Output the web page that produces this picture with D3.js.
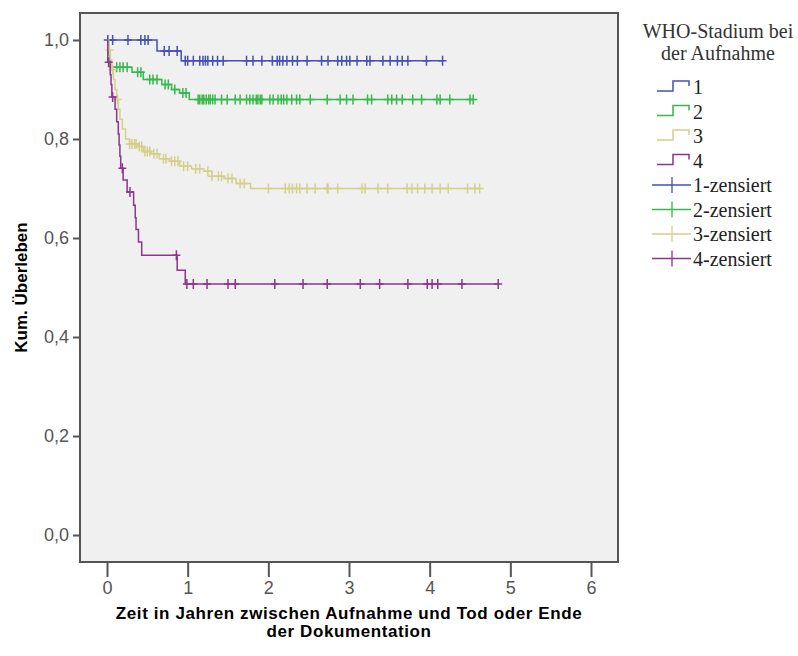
<html lang="de">

<head>
  <meta http-equiv="Content-Type" content="text/html; charset=UTF-8">
  <title>Kaplan-Meier WHO-Stadium</title>
  <script type="text/javascript" src="https://cdn.jsdelivr.net/npm/d3@7"></script>
  <style type="text/css">
    body { margin: 0; background: #fff; }
  </style>
</head>

<body>
  <script type="text/javascript">
    // survival steps per group: [time in years, survival after the event]
    var stage1Steps = [[0.62, 0.978], [0.92, 0.958]];
    var stage2Steps = [[0.02, 0.97], [0.04, 0.945], [0.31, 0.935], [0.45, 0.92], [0.68, 0.91], [0.80, 0.90], [0.90, 0.893], [1.02, 0.88]];
    var stage3Steps = [[0.02, 0.98], [0.04, 0.96], [0.06, 0.94], [0.08, 0.92], [0.10, 0.90], [0.12, 0.88], [0.14, 0.86], [0.16, 0.84],
      [0.19, 0.82], [0.23, 0.80], [0.28, 0.79], [0.38, 0.785], [0.45, 0.775], [0.55, 0.77], [0.65, 0.76], [0.78, 0.755],
      [0.90, 0.745], [1.05, 0.74], [1.20, 0.735], [1.30, 0.725], [1.45, 0.72], [1.60, 0.71], [1.78, 0.70]];
    var stage4Steps = [[0.01, 0.955], [0.04, 0.93], [0.05, 0.91], [0.06, 0.885], [0.10, 0.86], [0.12, 0.835], [0.14, 0.81],
      [0.15, 0.788], [0.16, 0.765], [0.17, 0.741], [0.20, 0.717], [0.25, 0.693], [0.33, 0.666], [0.35, 0.641],
      [0.36, 0.617], [0.39, 0.592], [0.43, 0.565], [0.87, 0.535], [0.97, 0.507]];

    // censored times per group
    var stage1Cens = [0.01, 0.07, 0.26, 0.42, 0.47, 0.51, 0.71, 0.77, 0.87, 0.97, 1.00, 1.07, 1.15, 1.19, 1.22, 1.25, 1.31,
      1.37, 1.44, 1.73, 1.81, 1.92, 2.05, 2.11, 2.14, 2.18, 2.23, 2.30, 2.36, 2.48, 2.66, 2.74, 2.86, 2.91, 2.97, 3.01,
      3.10, 3.22, 3.26, 3.42, 3.51, 3.60, 3.66, 3.73, 3.96, 4.16];
    var stage2Cens = [0.12, 0.16, 0.20, 0.25, 0.38, 0.42, 0.53, 0.57, 0.62, 0.72, 0.76, 0.84, 0.94, 0.98,
      1.13, 1.15, 1.18, 1.20, 1.23, 1.26, 1.28, 1.31, 1.34, 1.42, 1.49, 1.59, 1.65, 1.73, 1.77, 1.81, 1.85, 1.87, 1.90,
      1.92, 2.02, 2.06, 2.12, 2.16, 2.19, 2.23, 2.29, 2.35, 2.39, 2.52, 2.73, 2.89, 2.97, 3.05, 3.23, 3.28, 3.48, 3.53,
      3.59, 3.66, 3.79, 3.90, 4.09, 4.13, 4.25, 4.50, 4.54];
    var stage3Cens = [0.03, 0.07, 0.13, 0.28, 0.31, 0.34, 0.36, 0.40, 0.43, 0.47, 0.50, 0.53, 0.58, 0.62, 0.70, 0.73, 0.80,
      0.84, 0.88, 0.95, 1.00, 1.10, 1.15, 1.25, 1.30, 1.38, 1.42, 1.50, 1.55, 1.65, 1.70,
      2.00, 2.21, 2.26, 2.30, 2.35, 2.39, 2.48, 2.58, 2.73, 2.74, 2.86, 3.16, 3.20, 3.36, 3.48, 3.72, 3.78, 3.85, 3.94,
      4.03, 4.13, 4.23, 4.47, 4.56, 4.62];
    var stage4Cens = [0.02, 0.07, 0.19, 0.285, 0.86, 0.99, 1.07, 1.24, 1.50, 1.59, 2.08, 2.43, 2.73, 3.14, 3.38, 3.73,
      3.97, 4.03, 4.10, 4.40, 4.85];

    var groupNames = ["1", "2", "3", "4"];
    var groupColors = ["#4152b0", "#36b84a", "#d4d08c", "#8e3490"];
    var xTicks = [0, 1, 2, 3, 4, 5, 6];
    var yTicks = [0, 0.2, 0.4, 0.6, 0.8, 1.0];
    var legendTitle = ["WHO-Stadium bei", "der Aufnahme"];

    var groups = [
      { steps: stage1Steps, cens: stage1Cens },
      { steps: stage2Steps, cens: stage2Cens },
      { steps: stage3Steps, cens: stage3Cens },
      { steps: stage4Steps, cens: stage4Cens }
    ];

    var svg = d3.select("body").append("svg").attr("width", 798).attr("height", 656);

    var x = d3.scaleLinear().domain([0, 6]).range([107, 591]);
    var y = d3.scaleLinear().domain([0, 1]).range([535, 40]);

    // plot frame
    var frameL = 80, frameR = 618, frameT = 13, frameB = 562;
    svg.append("rect")
      .attr("x", frameL).attr("y", frameT)
      .attr("width", frameR - frameL).attr("height", frameB - frameT)
      .style("fill", "#f0f0f0");

    function survivalAt(steps, t) {
      var s = 1;
      for (var i = 0; i < steps.length; i++) {
        if (steps[i][0] <= t) s = steps[i][1];
      }
      return s;
    }

    var line = d3.line()
      .x(function(d) { return x(d[0]); })
      .y(function(d) { return y(d[1]); })
      .curve(d3.curveStepAfter);

    groups.forEach(function(g, i) {
      var lastT = Math.max(g.steps[g.steps.length - 1][0], g.cens[g.cens.length - 1]);
      var pts = [[0, 1]].concat(g.steps);
      pts.push([lastT, g.steps[g.steps.length - 1][1]]);
      svg.append("path")
        .attr("d", line(pts))
        .attr("fill", "none")
        .attr("stroke", groupColors[i])
        .attr("stroke-width", 1.5);

      var marks = svg.append("g").selectAll("path").data(g.cens).enter().append("path");
      marks.attr("d", function(t) {
          var cx = x(t), cy = y(survivalAt(g.steps, t));
          return "M" + (cx - 4) + "," + cy + "H" + (cx + 4) + "M" + cx + "," + (cy - 5) + "V" + (cy + 5);
        })
        .attr("stroke", groupColors[i])
        .attr("stroke-width", 1.5)
        .attr("fill", "none");
    });

    svg.append("rect")
      .attr("x", frameL).attr("y", frameT)
      .attr("width", frameR - frameL).attr("height", frameB - frameT)
      .style("fill", "none")
      .style("stroke", "#555")
      .style("stroke-width", 2);

    var fmt = function(d) { return d3.format(".1f")(d).replace(".", ","); };

    var yAxis = svg.append("g")
      .attr("transform", "translate(" + frameL + ",0)")
      .call(d3.axisLeft(y).tickValues(yTicks).tickFormat(fmt).tickSize(7).tickPadding(4));
    var xAxis = svg.append("g")
      .attr("transform", "translate(0," + frameB + ")")
      .call(d3.axisBottom(x).tickValues(xTicks).tickFormat(d3.format("d")).tickSize(15).tickPadding(4));

    [yAxis, xAxis].forEach(function(a) {
      a.select(".domain").remove();
      a.selectAll("line").attr("stroke", "#555").attr("stroke-width", 2);
      a.selectAll("text")
        .style("font-family", "'Liberation Sans', Arial, sans-serif")
        .style("font-size", "18px")
        .style("fill", "#555");
    });

    // axis titles
    svg.append("text")
      .attr("transform", "translate(27," + ((frameT + frameB) / 2) + ") rotate(-90)")
      .attr("text-anchor", "middle")
      .style("font-family", "'Liberation Sans', Arial, sans-serif")
      .style("font-weight", "bold")
      .style("font-size", "17px")
      .text("Kum. Überleben");

    var xt = svg.append("text")
      .attr("text-anchor", "middle")
      .style("font-family", "'Liberation Sans', Arial, sans-serif")
      .style("font-weight", "bold")
      .style("font-size", "17px")
      .style("letter-spacing", "0.6px");
    xt.append("tspan").attr("x", (frameL + frameR) / 2).attr("y", 619).text("Zeit in Jahren zwischen Aufnahme und Tod oder Ende");
    xt.append("tspan").attr("x", (frameL + frameR) / 2).attr("y", 637).text("der Dokumentation");

    // legend
    var legend = svg.append("g").style("font-family", "'Liberation Serif', 'Times New Roman', serif").style("font-size", "20px");
    legend.selectAll("text.title").data(legendTitle).enter().append("text")
      .attr("class", "title")
      .attr("x", 718)
      .attr("y", function(d, i) { return 38 + i * 22; })
      .attr("text-anchor", "middle")
      .style("fill", "#333")
      .text(function(d) { return d; });

    var rowY = function(i) { return 87 + i * 24.5; };
    groupNames.forEach(function(name, i) {
      var cy = rowY(i);
      legend.append("path")
        .attr("d", "M657," + (cy + 4) + "H673V" + (cy - 6) + "H689V" + (cy - 1))
        .attr("fill", "none")
        .attr("stroke", groupColors[i])
        .attr("stroke-width", 1.5);
      legend.append("text").attr("x", 693).attr("y", cy + 7).style("fill", "#222").text(name);

      var cy2 = rowY(i + 4);
      legend.append("path")
        .attr("d", "M652," + cy2 + "H691M672," + (cy2 - 8) + "V" + (cy2 + 8))
        .attr("fill", "none")
        .attr("stroke", groupColors[i])
        .attr("stroke-width", 1.3);
      legend.append("text").attr("x", 693).attr("y", cy2 + 7).style("fill", "#222").text(name + "-zensiert");
    });
  </script>
</body>

</html>
